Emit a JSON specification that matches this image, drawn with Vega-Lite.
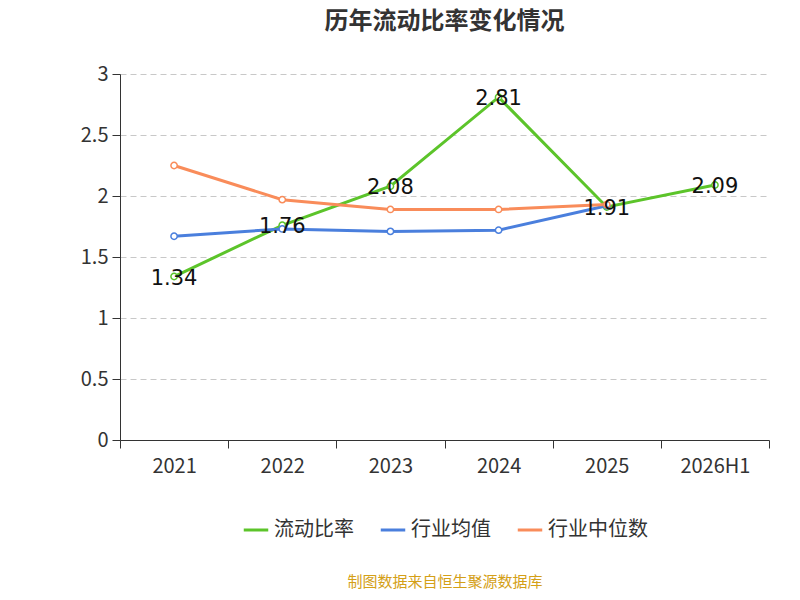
{
  "$schema": "https://vega.github.io/schema/vega-lite/v6.json",
  "autosize": {"type": "fit", "contains": "padding"},
  "width": 800,
  "height": 600,
  "padding": {"top": 10, "left": 80, "right": 30, "bottom": 10},
  "background": "#ffffff",
  "title": {"text": "历年流动比率变化情况", "fontSize": 24, "font": "Noto Sans CJK SC", "color": "#333333", "fontWeight": "bold", "offset": 30},
  "config": {
    "font": "Noto Sans CJK SC",
    "view": {"stroke": null},
    "axis": {"labelFontSize": 20, "labelColor": "#333333", "titleColor": "#333333"},
    "legend": {"layout": {"bottom": {"anchor": "middle"}}}
  },
  "data": {"values": [
    {"year": "2021", "series": "流动比率", "v": 1.34},
    {"year": "2022", "series": "流动比率", "v": 1.76},
    {"year": "2023", "series": "流动比率", "v": 2.08},
    {"year": "2024", "series": "流动比率", "v": 2.81},
    {"year": "2025", "series": "流动比率", "v": 1.91},
    {"year": "2026H1", "series": "流动比率", "v": 2.09},
    {"year": "2021", "series": "行业均值", "v": 1.67},
    {"year": "2022", "series": "行业均值", "v": 1.73},
    {"year": "2023", "series": "行业均值", "v": 1.71},
    {"year": "2024", "series": "行业均值", "v": 1.72},
    {"year": "2025", "series": "行业均值", "v": 1.92},
    {"year": "2021", "series": "行业中位数", "v": 2.25},
    {"year": "2022", "series": "行业中位数", "v": 1.97},
    {"year": "2023", "series": "行业中位数", "v": 1.89},
    {"year": "2024", "series": "行业中位数", "v": 1.89},
    {"year": "2025", "series": "行业中位数", "v": 1.93}
  ]},
  "encoding": {
    "x": {"field": "year", "type": "ordinal", "title": null,
      "scale": {"type": "band", "paddingInner": 0, "paddingOuter": 0},
      "axis": {"labelAngle": 0, "tickBand": "extent", "domainColor": "#333333", "tickColor": "#333333", "tickSize": 8, "labelPadding": 8}},
    "y": {"field": "v", "type": "quantitative", "title": null,
      "scale": {"domain": [0, 3]},
      "axis": {"values": [0, 0.5, 1, 1.5, 2, 2.5, 3], "format": "~g", "domain": true, "domainColor": "#333333", "tickColor": "#333333", "tickSize": 8,
        "gridDash": [6, 4], "gridColor": "#c8c8c8", "labelPadding": 4}},
    "color": {"field": "series", "type": "nominal",
      "scale": {"domain": ["流动比率", "行业均值", "行业中位数"], "range": ["#5cc42a", "#4a7fdd", "#f98c5a"]},
      "legend": {"orient": "bottom", "title": "制图数据来自恒生聚源数据库", "titleOrient": "bottom", "titleAnchor": "middle",
        "titleColor": "#d4a017", "titleFontSize": 15, "titleFontWeight": "normal", "titlePadding": 35, "titleLimit": 1000,
        "labelFontSize": 20, "labelColor": "#333333", "symbolType": "stroke", "symbolSize": 600, "symbolStrokeWidth": 3,
        "columnPadding": 20, "offset": 40}}
  },
  "layer": [
    {"mark": {"type": "line", "strokeWidth": 3, "point": {"filled": false, "fill": "#ffffff", "size": 40, "strokeWidth": 1.5}}},
    {"transform": [{"filter": "datum.series == '流动比率'"}],
      "mark": {"type": "text", "fontSize": 21, "font": "DejaVu Sans", "color": "#111111", "dy": 2},
      "encoding": {"text": {"field": "v", "type": "quantitative", "format": ".2f"}, "color": {"value": "#111111"}}}
  ]
}
